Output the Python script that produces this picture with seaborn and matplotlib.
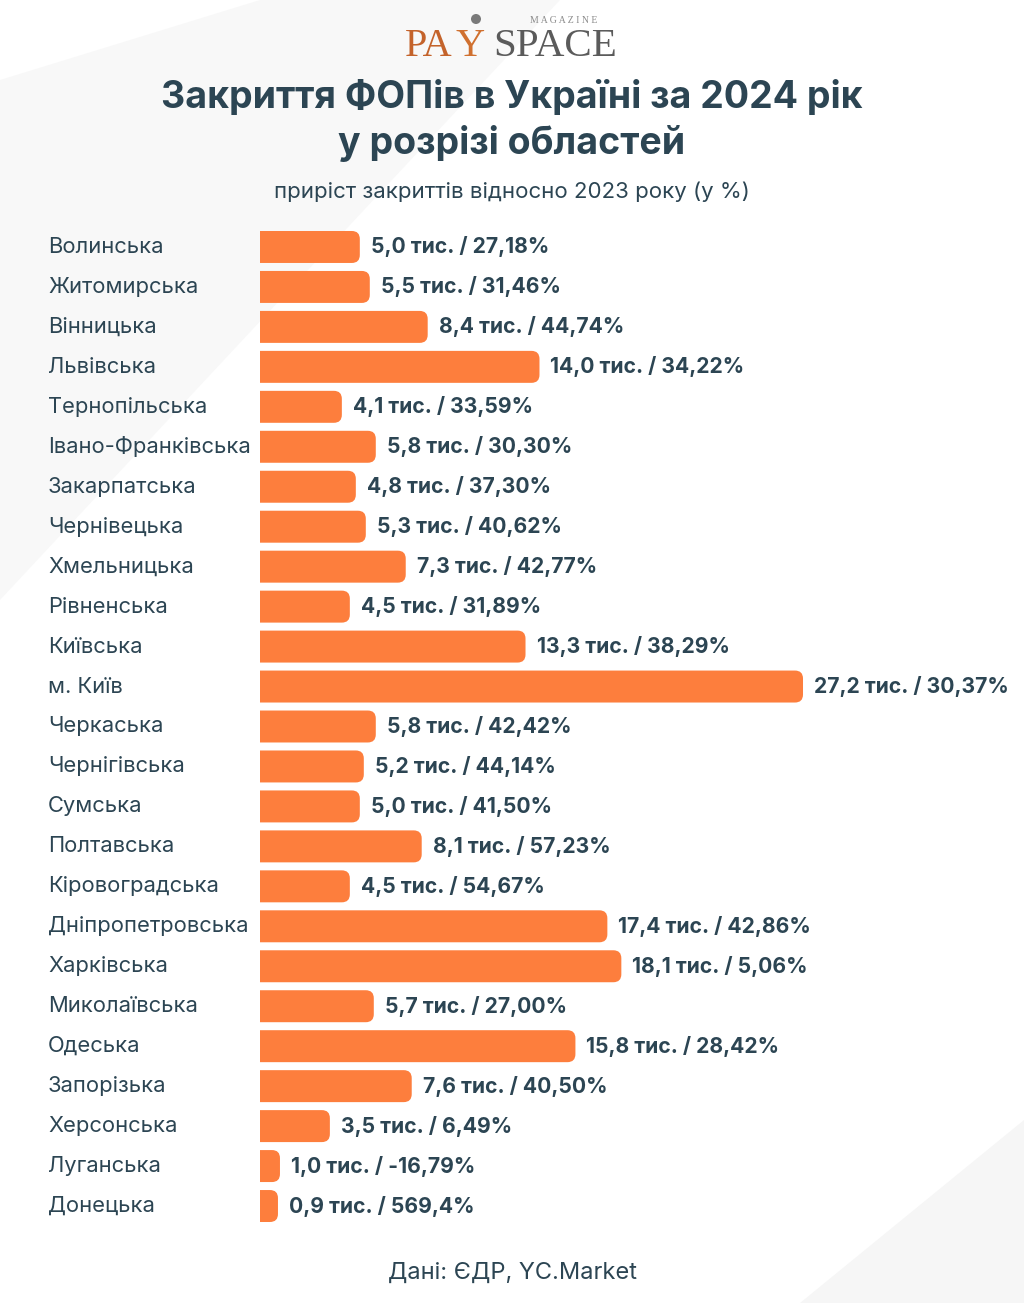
import matplotlib
matplotlib.use("Agg")
import matplotlib.pyplot as plt
import matplotlib.transforms as mtransforms
from matplotlib.patches import FancyBboxPatch, Polygon, Circle
import seaborn as sns
import pandas as pd

# ---------------- data ----------------
regions = [
    "Волинська", "Житомирська", "Вінницька", "Львівська", "Тернопільська",
    "Івано-Франківська", "Закарпатська", "Чернівецька", "Хмельницька",
    "Рівненська", "Київська", "м. Київ", "Черкаська", "Чернігівська",
    "Сумська", "Полтавська", "Кіровоградська", "Дніпропетровська",
    "Харківська", "Миколаївська", "Одеська", "Запорізька", "Херсонська",
    "Луганська", "Донецька",
]
closed_thousands = [
    5.0, 5.5, 8.4, 14.0, 4.1, 5.8, 4.8, 5.3, 7.3, 4.5, 13.3, 27.2, 5.8,
    5.2, 5.0, 8.1, 4.5, 17.4, 18.1, 5.7, 15.8, 7.6, 3.5, 1.0, 0.9,
]
growth_labels = [
    "27,18%", "31,46%", "44,74%", "34,22%", "33,59%", "30,30%", "37,30%",
    "40,62%", "42,77%", "31,89%", "38,29%", "30,37%", "42,42%", "44,14%",
    "41,50%", "57,23%", "54,67%", "42,86%", "5,06%", "27,00%", "28,42%",
    "40,50%", "6,49%", "-16,79%", "569,4%",
]
title_lines = ["Закриття ФОПів в Україні за 2024 рік", "у розрізі областей"]
subtitle = "приріст закриттів відносно 2023 року (у %)"
source = "Дані: ЄДР, YC.Market"

# ---------------- style ----------------
ORANGE = "#fd7e3d"
DARK = "#2c4553"
W, H = 1024, 1303

sns.set_theme(style="white")
plt.rcParams["font.family"] = ["Inter", "DejaVu Sans"]

fig = plt.figure(figsize=(W / 100, H / 100), dpi=100)
fig.patch.set_facecolor("white")

# faint background shapes
bg = fig.add_axes([0, 0, 1, 1], zorder=-10)
bg.set_xlim(0, W)
bg.set_ylim(H, 0)
bg.axis("off")
bg.add_patch(Polygon([(0, 80), (260, 0), (560, 0), (0, 600)], closed=True,
                     fc="#f8f8f8", ec="none"))
bg.add_patch(Polygon([(800, H), (1024, 1120), (1024, H)], closed=True,
                     fc="#f6f6f6", ec="none"))

# logo
bg.text(405, 56, "PA", fontsize=29, family="Liberation Serif", color="#c4632b",
        ha="left", va="baseline")
bg.text(456, 56, "Y", fontsize=29, family="Liberation Serif", color="#d0702f",
        ha="left", va="baseline")
bg.text(493, 56, "SPACE", fontsize=29.5, family="Liberation Serif", color="#5b5b5b",
        ha="left", va="baseline")
bg.add_patch(Circle((476, 19), 5, fc="#7a7a7a", ec="none"))
bg.text(530, 23, "M A G A Z I N E", fontsize=7, family="Liberation Serif",
        color="#8a8a8a", ha="left", va="baseline")

# titles
bg.text(W / 2, 98, title_lines[0], fontsize=27, fontweight="bold", color=DARK,
        ha="center", va="center")
bg.text(W / 2, 144, title_lines[1], fontsize=27, fontweight="bold", color=DARK,
        ha="center", va="center")
bg.text(W / 2, 192, subtitle, fontsize=16, color=DARK, ha="center", va="center")
bg.text(W / 2, 1273, source, fontsize=17, color=DARK, ha="center", va="center")

# ---------------- bars ----------------
ax_left, ax_right = 260, 1024
ax_top, ax_bottom = 227, 1226
XMAX = 38.27
ax = fig.add_axes([ax_left / W, 1 - ax_bottom / H,
                   (ax_right - ax_left) / W, (ax_bottom - ax_top) / H])
df = pd.DataFrame({"region": regions, "value": closed_thousands})
sns.barplot(data=df, x="value", y="region", orient="h", color=ORANGE,
            saturation=1, width=0.8, ax=ax)
ax.set_xlim(0, XMAX)
ax.set_ylim(len(regions) - 0.5, -0.5)
ax.axis("off")

ux = (ax_right - ax_left) / XMAX          # px per x unit
uy = (ax_bottom - ax_top) / len(regions)  # px per y unit
r_px = 8
r_x = r_px / ux
aspect = ux / uy

for p in list(ax.patches):
    x0, y0, w, h = p.get_x(), p.get_y(), p.get_width(), p.get_height()
    p.remove()
    ax.add_patch(FancyBboxPatch((x0 - r_x, y0), w + r_x, h,
                                boxstyle=f"round,pad=0,rounding_size={r_x}",
                                mutation_aspect=aspect, fc=ORANGE, ec="none"))

trans = mtransforms.blended_transform_factory(fig.transFigure, ax.transData)
for i, (name, v, g) in enumerate(zip(regions, closed_thousands, growth_labels)):
    ax.text(48 / W, i, name, transform=trans, fontsize=15.8, color=DARK,
            ha="left", va="center")
    lab = f"{v:.1f}".replace(".", ",") + " тис. / " + g
    ax.text(v + 11 / ux, i, lab, fontsize=15.2, fontweight="bold", color=DARK,
            ha="left", va="center", clip_on=False)

fig.savefig("out.png", dpi=100)
